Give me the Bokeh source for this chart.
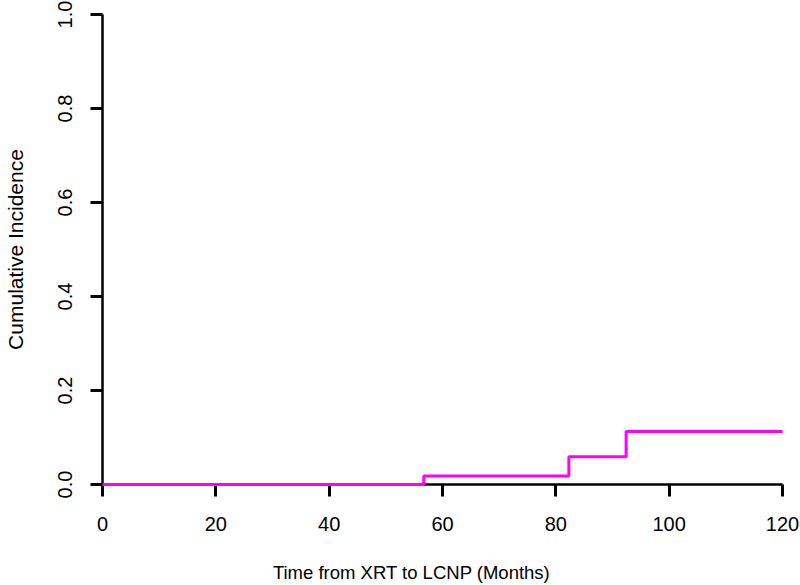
from bokeh.plotting import figure
from bokeh.models import Range1d, FixedTicker, PrintfTickFormatter
from bokeh.embed import file_html
from bokeh.resources import INLINE

# Data
times = [0, 56.7, 82.3, 92.4, 120]
cum_incidence = [0.0, 0.018, 0.059, 0.113, 0.113]
x_ticks = [0, 20, 40, 60, 80, 100, 120]
y_ticks = [0.0, 0.2, 0.4, 0.6, 0.8, 1.0]
x_title = "Time from XRT to LCNP (Months)"
y_title = "Cumulative Incidence"

FONT = "Liberation Sans"

p = figure(width=800, height=585,
           x_range=Range1d(0, 120), y_range=Range1d(0, 1),
           output_backend="svg", toolbar_location=None,
           min_border_left=102, min_border_right=18,
           min_border_top=14, min_border_bottom=100)
p.outline_line_color = None
p.xgrid.visible = False
p.ygrid.visible = False
p.background_fill_color = "white"
p.border_fill_color = "white"

p.step(times, cum_incidence, mode="after", line_color="#FF00FF",
       line_width=3, level="overlay")

for ax in (p.xaxis[0], p.yaxis[0]):
    ax.axis_line_color = "black"
    ax.axis_line_width = 2.5
    ax.major_tick_line_color = "black"
    ax.major_tick_line_width = 3
    ax.major_tick_in = 0
    ax.major_tick_out = 12
    ax.minor_tick_line_color = None
    ax.major_label_text_font = FONT
    ax.major_label_text_font_size = "20px"
    ax.major_label_text_color = "black"
    ax.axis_label_text_font = FONT
    ax.axis_label_text_font_style = "normal"
    ax.axis_label_text_color = "black"

p.xaxis.ticker = FixedTicker(ticks=x_ticks)
p.yaxis.ticker = FixedTicker(ticks=y_ticks)
p.yaxis.formatter = PrintfTickFormatter(format="%.1f")
p.xaxis.major_label_standoff = 20
p.yaxis.major_label_standoff = 19
p.yaxis.major_label_orientation = "vertical"

p.yaxis.axis_label = y_title
p.yaxis.axis_label_text_font_size = "21px"
p.yaxis.axis_label_standoff = 28

# trailing no-break spaces shift the centred title left, as in the reference
p.xaxis.axis_label = x_title + "\u00a0" * 12
p.xaxis.axis_label_text_font_size = "18.5px"
p.xaxis.axis_label_standoff = 28

open("out.html", "w").write(file_html(p, INLINE))
